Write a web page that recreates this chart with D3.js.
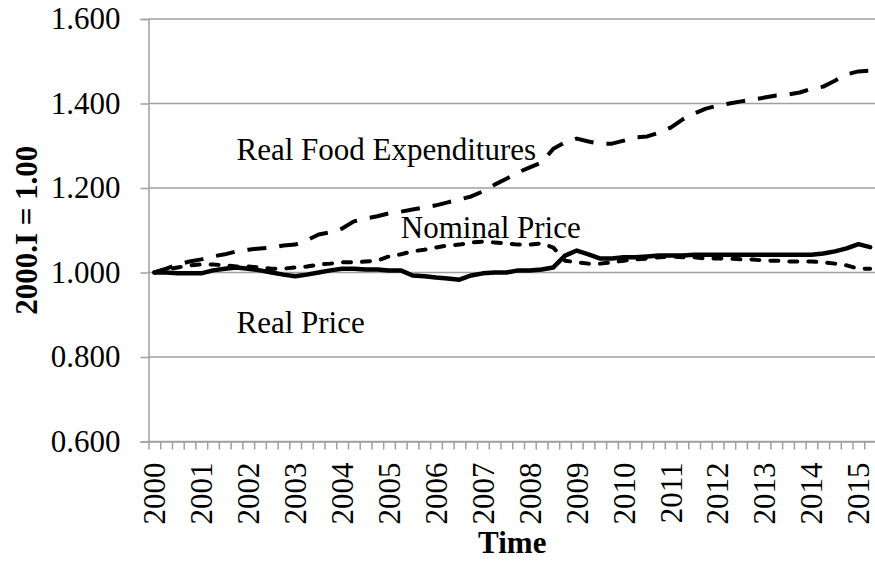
<!DOCTYPE html>
<html>
<head>
<meta charset="utf-8"/>
<script src="https://d3js.org/d3.v7.min.js"></script>
<style>
  body { margin: 0; background: #fff; }
  text { font-family: "Liberation Serif", "Tinos", "Times New Roman", "DejaVu Serif", serif; fill: #000; }
</style>
</head>
<body>
<svg id="chart" width="875" height="569"></svg>
<script>
// tick labels / categories (quarterly, 2000.I to 2015.II)
var years = [2000, 2001, 2002, 2003, 2004, 2005, 2006, 2007, 2008, 2009, 2010, 2011, 2012, 2013, 2014, 2015];
var quarters = ["I", "II", "III", "IV"];
var categories = [];
years.forEach(function(y) { quarters.forEach(function(q) { categories.push(y + "." + q); }); });
categories = categories.slice(0, 62);

var yTicks = [0.6, 0.8, 1.0, 1.2, 1.4, 1.6];

// series values (index 2000.I = 1.00)
var realFoodExp = [1.000, 1.009, 1.019, 1.026, 1.031, 1.038, 1.043, 1.050, 1.054, 1.057,
                   1.059, 1.064, 1.066, 1.076, 1.090, 1.095, 1.104, 1.121, 1.128, 1.133,
                   1.140, 1.144, 1.149, 1.154, 1.159, 1.166, 1.173, 1.180, 1.192, 1.208,
                   1.222, 1.237, 1.249, 1.260, 1.293, 1.308, 1.317, 1.310, 1.305, 1.305,
                   1.312, 1.320, 1.322, 1.331, 1.343, 1.362, 1.376, 1.388, 1.395, 1.400,
                   1.405, 1.409, 1.414, 1.419, 1.421, 1.426, 1.435, 1.440, 1.454, 1.469,
                   1.476, 1.478];
var nominalPrice = [1.000, 1.007, 1.012, 1.017, 1.019, 1.019, 1.017, 1.014, 1.014, 1.012,
                    1.009, 1.009, 1.012, 1.014, 1.019, 1.021, 1.024, 1.024, 1.026, 1.028,
                    1.038, 1.043, 1.050, 1.054, 1.059, 1.064, 1.066, 1.071, 1.073, 1.071,
                    1.069, 1.066, 1.066, 1.069, 1.059, 1.028, 1.024, 1.021, 1.021, 1.024,
                    1.028, 1.031, 1.033, 1.036, 1.038, 1.036, 1.036, 1.033, 1.033, 1.033,
                    1.031, 1.031, 1.028, 1.028, 1.026, 1.026, 1.026, 1.024, 1.021, 1.017,
                    1.009, 1.009];
var realPrice = [1.000, 1.000, 0.998, 0.998, 0.998, 1.005, 1.009, 1.012, 1.009, 1.005,
                 1.000, 0.995, 0.991, 0.995, 1.000, 1.005, 1.009, 1.009, 1.007, 1.007,
                 1.005, 1.005, 0.993, 0.991, 0.988, 0.986, 0.983, 0.993, 0.998, 1.000,
                 1.000, 1.005, 1.005, 1.007, 1.012, 1.040, 1.052, 1.043, 1.033, 1.033,
                 1.036, 1.036, 1.038, 1.040, 1.040, 1.040, 1.042, 1.042, 1.042, 1.042,
                 1.042, 1.042, 1.042, 1.042, 1.042, 1.042, 1.042, 1.045, 1.050, 1.057,
                 1.067, 1.060];

var seriesNames = ["Real Food Expenditures", "Nominal Price", "Real Price"];
var seriesData = [realFoodExp, nominalPrice, realPrice];

// in-chart labels: category where the text starts, value at its baseline
var labelAt = ["2001.IV", "2005.II", "2001.IV"];
var labelVal = [1.266, 1.082, 0.857];

var margin = { left: 148.5, right: -1, top: 19, bottom: 127.5 };
var W = 875, H = 569;
var svg = d3.select("#chart");

var x = d3.scaleBand().domain(categories).range([margin.left, W - margin.right]).paddingInner(0).paddingOuter(0);
var xIdx = d3.scaleLinear().domain([0, categories.length]).range([margin.left, W - margin.right]);
var y = d3.scaleLinear().domain([0.6, 1.6]).range([H - margin.bottom, margin.top]);

var gridColor = "#a0a0a0";
var serif = '"Liberation Serif", "Tinos", "Times New Roman", "DejaVu Serif", serif';

// horizontal gridlines
svg.append("g").selectAll("line").data(yTicks).enter().append("line")
  .attr("x1", margin.left).attr("x2", W - margin.right)
  .attr("y1", function(d) { return y(d); }).attr("y2", function(d) { return y(d); })
  .attr("stroke", gridColor).attr("stroke-width", 1.5);

// y axis
var yAxisG = svg.append("g").attr("transform", "translate(" + margin.left + ",0)")
  .call(d3.axisLeft(y).tickValues(yTicks).tickFormat(d3.format(".3f")).tickSize(8).tickPadding(20));
yAxisG.attr("font-family", null).attr("font-size", null);
yAxisG.select(".domain").attr("stroke", gridColor).attr("stroke-width", 1.5);
yAxisG.selectAll(".tick line").attr("stroke", gridColor).attr("stroke-width", 1.5);
yAxisG.selectAll(".tick text").style("font-family", serif).style("font-size", "31px").attr("fill", "#000");

// x axis: tick marks between quarters
var xAxisG = svg.append("g").attr("transform", "translate(0," + y(0.6) + ")")
  .call(d3.axisBottom(xIdx).tickValues(d3.range(categories.length + 1)).tickFormat("").tickSize(8).tickSizeOuter(0));
xAxisG.select(".domain").attr("stroke", gridColor).attr("stroke-width", 1.5);
xAxisG.selectAll(".tick line").attr("stroke", gridColor).attr("stroke-width", 1.5);

// year labels at first quarter of each year
svg.append("g").selectAll("text").data(years).enter().append("text")
  .attr("transform", function(d) {
    return "translate(" + (x(d + ".I") + x.bandwidth() / 2) + "," + (y(0.6) + 21) + ") rotate(-90)";
  })
  .attr("dy", "0.35em")
  .attr("text-anchor", "end")
  .style("font-family", serif)
  .style("font-size", "31px")
  .text(function(d) { return d; });

// axis titles
svg.append("text")
  .attr("x", (margin.left + W - margin.right) / 2).attr("y", 553)
  .attr("text-anchor", "middle")
  .style("font-family", serif)
  .style("font-size", "31px").style("font-weight", "bold")
  .text("Time");

svg.append("text")
  .attr("transform", "translate(37," + (y(0.6) + y(1.6)) / 2 + ") rotate(-90)")
  .attr("text-anchor", "middle")
  .style("font-family", serif)
  .style("font-size", "31px").style("font-weight", "bold")
  .text("2000.I = 1.00");

// lines
var line = d3.line()
  .x(function(d, i) { return x(categories[i]) + x.bandwidth() / 2; })
  .y(function(d) { return y(d); });

var styles = [
  { dash: "19,13", cap: "butt", width: 4 },
  { dash: "8,11", cap: "round", width: 4 },
  { dash: null, cap: "round", width: 4.5 }
];

svg.append("g").selectAll("path").data(seriesData).enter().append("path")
  .attr("d", function(d) { return line(d); })
  .attr("fill", "none")
  .attr("stroke", "#000")
  .attr("stroke-width", function(d, i) { return styles[i].width; })
  .attr("stroke-dasharray", function(d, i) { return styles[i].dash; })
  .attr("stroke-linecap", function(d, i) { return styles[i].cap; })
  .attr("stroke-linejoin", "round");

// series labels
svg.append("g").selectAll("text").data(seriesNames).enter().append("text")
  .attr("x", function(d, i) { return x(labelAt[i]) + x.bandwidth() / 2; })
  .attr("y", function(d, i) { return y(labelVal[i]); })
  .style("font-family", serif)
  .style("font-size", "31px")
  .text(function(d) { return d; });
</script>
</body>
</html>
